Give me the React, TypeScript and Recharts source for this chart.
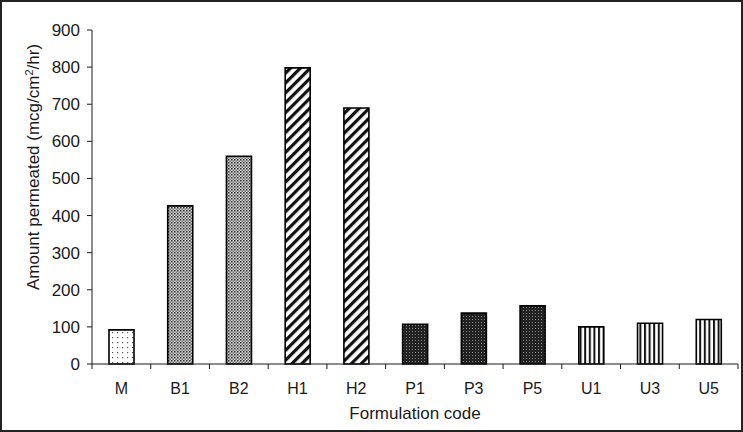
import { BarChart, Bar, XAxis, YAxis, Cell } from "recharts";

const categories = ["M", "B1", "B2", "H1", "H2", "P1", "P3", "P5", "U1", "U3", "U5"];
const permeated = [92, 426, 560, 798, 690, 107, 137, 157, 100, 110, 120];
const yTicks = [0, 100, 200, 300, 400, 500, 600, 700, 800, 900];
// pattern used for each formulation group
const patternOf = ["dots", "check", "check", "diag", "diag", "dark", "dark", "dark", "vert", "vert", "vert"];

const data = categories.map((c, i) => ({ code: c, value: permeated[i], pat: patternOf[i] }));

const FONT = "'Liberation Sans', Arial, sans-serif";
const INK = "#1a1a1a";

function Patterns() {
  return (
    <svg width={0} height={0} style={{ position: "absolute" }}>
      <defs>
        <pattern id="pat-dots" width={5} height={5} patternUnits="userSpaceOnUse">
          <rect width={5} height={5} fill="#fff" />
          <rect x={2} y={2} width={1.2} height={1.2} fill="#555" />
        </pattern>
        <pattern id="pat-check" width={3} height={3} patternUnits="userSpaceOnUse">
          <rect width={3} height={3} fill="#cfcfcf" />
          <rect x={0} y={0} width={1.5} height={1.5} fill="#333" />
          <rect x={1.5} y={1.5} width={1.5} height={1.5} fill="#777" />
        </pattern>
        <pattern
          id="pat-diag"
          width={7}
          height={7}
          patternUnits="userSpaceOnUse"
          patternTransform="rotate(45)"
        >
          <rect width={7} height={7} fill="#fff" />
          <rect x={0} y={0} width={3.2} height={7} fill="#111" />
        </pattern>
        <pattern id="pat-dark" width={3} height={3} patternUnits="userSpaceOnUse">
          <rect width={3} height={3} fill="#222" />
          <rect x={1} y={1} width={1} height={1} fill="#888" />
        </pattern>
        <pattern id="pat-vert" width={4.6} height={4} patternUnits="userSpaceOnUse">
          <rect width={4.6} height={4} fill="#fff" />
          <rect x={0} y={0} width={2} height={4} fill="#111" />
        </pattern>
      </defs>
    </svg>
  );
}

function CodeTick(props: any) {
  const { x, y, payload, index } = props;
  const half = payload.offset ?? 0;
  const last = index === categories.length - 1;
  return (
    <g>
      <line x1={x - half} y1={y} x2={x - half} y2={y + 5} stroke={INK} />
      {last && <line x1={x + half} y1={y} x2={x + half} y2={y + 5} stroke={INK} />}
      <text x={x} y={y + 30} textAnchor="middle" fontSize={16} fontFamily={FONT} fill={INK}>
        {payload.value}
      </text>
    </g>
  );
}

function NumTick(props: any) {
  const { x, y, payload } = props;
  return (
    <text x={x} y={y} dy={6} textAnchor="end" fontSize={17} fontFamily={FONT} fill={INK}>
      {payload.value}
    </text>
  );
}

function YLabel() {
  return (
    <text
      transform="translate(39,167) rotate(-90)"
      textAnchor="middle"
      fontSize={17}
      fontFamily={FONT}
      fill={INK}
    >
      Amount permeated (mcg/cm
      <tspan fontSize={11} dy={-6}>2</tspan>
      <tspan dy={6}>/hr)</tspan>
    </text>
  );
}

function XLabel() {
  return (
    <text x={415} y={419} textAnchor="middle" fontSize={17} fontFamily={FONT} fill={INK}>
      Formulation code
    </text>
  );
}

export default function App() {
  return (
    <div
      style={{
        position: "absolute",
        left: 0,
        top: 0,
        width: 743,
        height: 432,
        border: "2px solid #222",
        boxSizing: "border-box",
        background: "#fff",
        overflow: "hidden",
      }}
    >
      <Patterns />
      <div style={{ position: "absolute", left: -2, top: -2 }}>
        <BarChart
          width={743}
          height={432}
          data={data}
          margin={{ top: 30, right: 5, bottom: 0, left: 0 }}
          barCategoryGap={0}
        >
          <XAxis
            dataKey="code"
            height={68}
            tickLine={false}
            tickSize={0}
            tickMargin={0}
            axisLine={{ stroke: INK }}
            tick={<CodeTick />}
            interval={0}
            label={<XLabel />}
          />
          <YAxis
            width={92}
            domain={[0, 900]}
            ticks={yTicks}
            interval={0}
            tickSize={5}
            tickMargin={7}
            axisLine={{ stroke: INK }}
            tickLine={{ stroke: INK }}
            tick={<NumTick />}
            label={<YLabel />}
          />
          <Bar dataKey="value" barSize={25} stroke="#000" strokeWidth={1.6} isAnimationActive={false}>
            {data.map((d) => (
              <Cell key={d.code} fill={`url(#pat-${d.pat})`} />
            ))}
          </Bar>
        </BarChart>
      </div>
    </div>
  );
}
